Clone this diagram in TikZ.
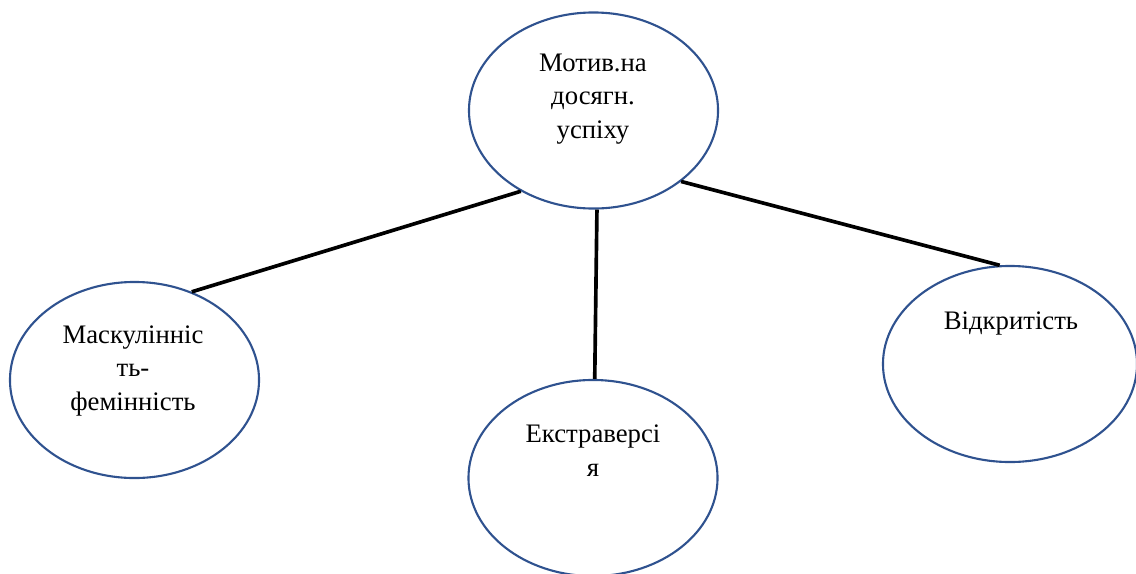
\documentclass[tikz,border=0pt]{standalone}
\usepackage{fontspec}
\setmainfont{Liberation Serif}
\usetikzlibrary{shapes.geometric}
\definecolor{ovalblue}{RGB}{47,82,143}

\begin{document}
\begin{tikzpicture}[x=0.025cm,y=-0.025cm,
  oval/.style={ellipse, draw=ovalblue, line width=1.5pt, minimum width=6.225cm, minimum height=4.9cm, inner sep=0pt},
  lbl/.style={align=center, inner sep=0pt, anchor=base, font=\fontsize{19}{23.5}\selectfont},
  link/.style={line width=2.6pt}]
\useasboundingbox (0,0) rectangle (1136,573);

\node [oval] (motiv) at (593.5,110.5) {};
\node [oval] (mask) at (134.5,380) {};
\node [oval] (ekstr) at (593,478) {};
\node [oval, minimum width=6.35cm] (vidkr) at (1010,364) {};

\node [lbl] (motivtxt) at (593,138) {Мотив.на\\досягн.\\успіху};
\node [lbl] (masktxt) at (133,410) {Маскулінніс\\ть-\\фемінність};
\node [lbl] (ekstrtxt) at (593,476) {Екстраверсі\\я};
\node [lbl] (vidkrtxt) at (1011,329) {Відкритість};

\draw [link] (motiv.228) -- (mask.57);
\draw [link] (motiv.272) -- (ekstr.89);
\draw [link] (motiv.321) -- (vidkr.96);
\end{tikzpicture}
\end{document}
